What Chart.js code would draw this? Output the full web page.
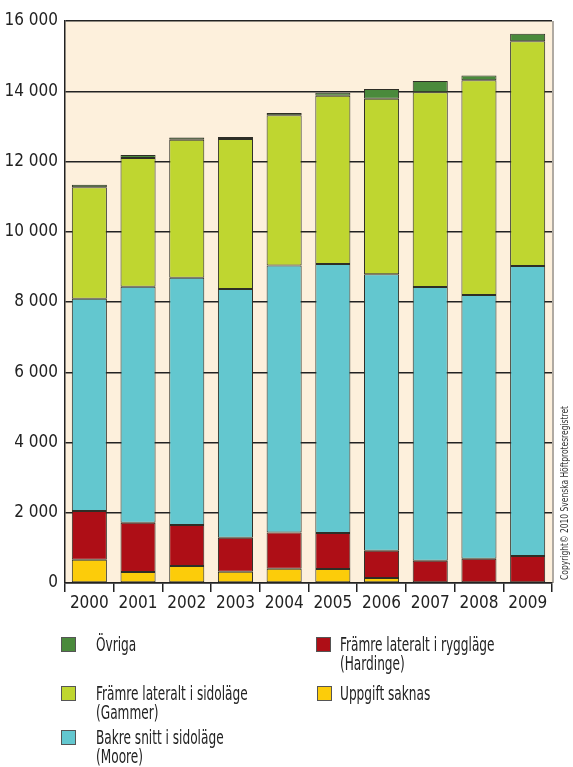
<!DOCTYPE html>
<html>
<head>
<meta charset="utf-8">
<script src="https://cdn.jsdelivr.net/npm/chart.js@4"></script>
<style>
  html, body { margin: 0; padding: 0; background: #fff; }
  #wrap { position: relative; width: 573px; height: 767px; }
  #chart { position: absolute; left: 0; top: 0; }
  .leg { position: absolute; font-family: "DejaVu Sans Condensed", "DejaVu Sans", sans-serif;
         font-size: 19px; line-height: 19px; color: #222; white-space: nowrap;
         transform-origin: 0 0; transform: scaleX(0.71); }
  .sw { position: absolute; width: 13px; height: 13px; border: 1px solid #555; }
  #copy { position: absolute; left: 559px; top: 580px; transform-origin: 0 0; transform: rotate(-90deg) scaleX(0.84);
          font-family: "DejaVu Sans Condensed", "DejaVu Sans", sans-serif; font-size: 10px;
          color: #333; white-space: nowrap; }
</style>
</head>
<body>
<div id="wrap">
  <canvas id="chart" width="573" height="767"></canvas>
  <div id="legend"></div>
  <div id="copy">Copyright© 2010 Svenska Höftprotesregistret</div>
</div>
<script>
  const years = ["2000", "2001", "2002", "2003", "2004", "2005", "2006", "2007", "2008", "2009"];
  const uppgiftSaknas = [660, 310, 485, 320, 405, 400, 140, 20, 20, 0];
  const hardinge = [1390, 1405, 1165, 970, 1035, 1025, 780, 615, 670, 770];
  const moore = [6045, 6720, 7040, 7080, 7600, 7660, 7870, 7790, 7510, 8255];
  const gammer = [3170, 3665, 3930, 4270, 4280, 4785, 5000, 5550, 6110, 6395];
  const ovriga = [70, 85, 60, 55, 60, 85, 275, 320, 135, 220];

  const FONT = '"DejaVu Sans Condensed", "DejaVu Sans", sans-serif';

  // legend layout (two columns, drawn as html)
  const legendItems = [
    { label: ["Övriga"], color: "#4a8a3c", x: 61, y: 637, tx: 96 },
    { label: ["Främre lateralt i sidoläge", "(Gammer)"], color: "#bfd630", x: 61, y: 686, tx: 96 },
    { label: ["Bakre snitt i sidoläge", "(Moore)"], color: "#63c7cf", x: 61, y: 730, tx: 96 },
    { label: ["Främre lateralt i ryggläge", "(Hardinge)"], color: "#ae0e16", x: 316, y: 637, tx: 340 },
    { label: ["Uppgift saknas"], color: "#fccc0a", x: 317, y: 686, tx: 340 },
  ];
  const legendDiv = document.getElementById("legend");
  legendItems.forEach((it) => {
    const sw = document.createElement("div");
    sw.className = "sw";
    sw.style.left = it.x + "px";
    sw.style.top = it.y + "px";
    sw.style.background = it.color;
    legendDiv.appendChild(sw);
    const tx = document.createElement("div");
    tx.className = "leg";
    tx.style.left = it.tx + "px";
    tx.style.top = (it.y - 2) + "px";
    tx.innerHTML = it.label.join("<br>");
    legendDiv.appendChild(tx);
  });

  // cream plot background + right shadow
  const plotBg = {
    id: "plotBg",
    beforeDraw(chart) {
      const { ctx, chartArea: a } = chart;
      ctx.save();
      ctx.fillStyle = "#fdf0dc";
      ctx.fillRect(a.left, a.top, a.right - a.left, a.bottom - a.top);
      ctx.strokeStyle = "#b0aaa2";
      ctx.lineWidth = 2;
      ctx.beginPath();
      ctx.moveTo(a.right + 1, a.top);
      ctx.lineTo(a.right + 1, a.bottom);
      ctx.stroke();
      ctx.restore();
    },
  };

  const series = [
    { label: "Uppgift saknas", data: uppgiftSaknas, color: "#fccc0a" },
    { label: "Främre lateralt i ryggläge (Hardinge)", data: hardinge, color: "#ae0e16" },
    { label: "Bakre snitt i sidoläge (Moore)", data: moore, color: "#63c7cf" },
    { label: "Främre lateralt i sidoläge (Gammer)", data: gammer, color: "#bfd630" },
    { label: "Övriga", data: ovriga, color: "#4a8a3c" },
  ];

  new Chart(document.getElementById("chart"), {
    type: "bar",
    data: {
      labels: years,
      datasets: series.map((s) => ({
        label: s.label,
        data: s.data,
        backgroundColor: s.color,
        borderColor: "#2e2e26",
        borderWidth: 1,
        borderSkipped: false,
        categoryPercentage: 1,
        barPercentage: 0.72,
      })),
    },
    options: {
      responsive: false,
      animation: false,
      layout: { padding: { left: 0, top: 21, right: 21, bottom: 154 } },
      plugins: { legend: { display: false }, tooltip: { enabled: false } },
      scales: {
        x: {
          stacked: true,
          afterFit: (axis) => { axis.height = 30; },
          grid: { drawOnChartArea: false, drawTicks: true, tickLength: 9, color: "#222", lineWidth: 1.5 },
          border: { color: "#222", width: 1.5 },
          ticks: { color: "#222", font: { family: FONT, size: 17 }, padding: 1, maxRotation: 0, minRotation: 0, autoSkip: false },
        },
        y: {
          stacked: true,
          min: 0,
          max: 16000,
          afterFit: (axis) => { axis.width = 65; },
          grid: { color: "#222", lineWidth: 1.5, drawTicks: false },
          border: { color: "#222", width: 1.5 },
          ticks: {
            stepSize: 2000,
            color: "#222",
            padding: 7,
            font: { family: FONT, size: 17 },
            callback: (v) => String(v).replace(/\B(?=(\d{3})+(?!\d))/g, " "),
          },
        },
      },
    },
    plugins: [plotBg],
  });
</script>
</body>
</html>
